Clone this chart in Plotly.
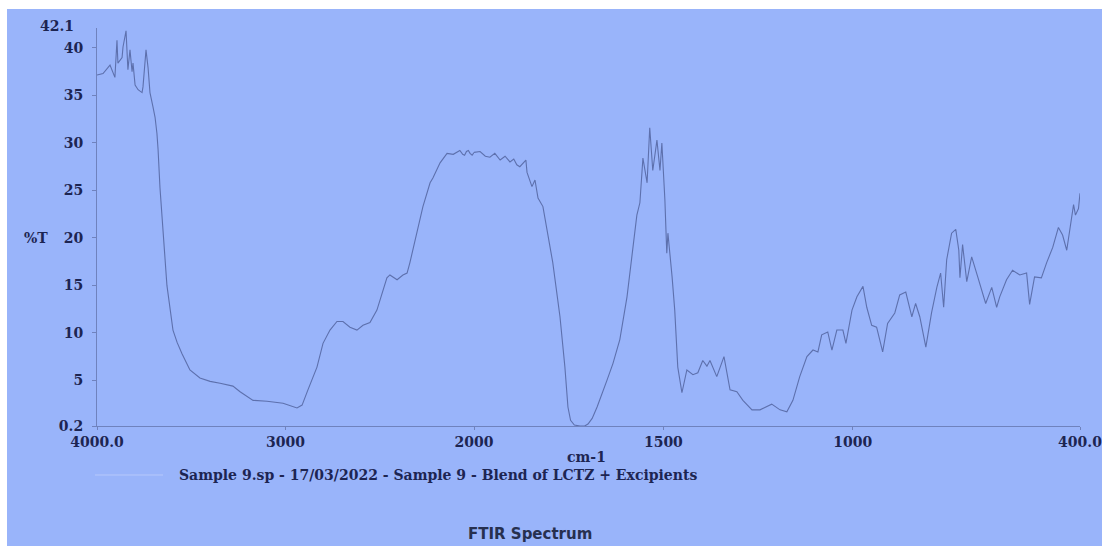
import plotly.graph_objects as go

# FTIR spectrum: wavenumber (cm-1) vs %T, split at 2000 cm-1 where the
# abscissa scale doubles.
wn_high = [4000, 3968, 3931, 3905, 3894, 3889, 3867, 3862, 3846, 3836, 3825,
           3814, 3809, 3798, 3782, 3761, 3756, 3740, 3729, 3719, 3703, 3692,
           3682, 3676, 3666, 3650, 3629, 3597, 3575, 3549, 3507, 3454, 3400, 3347,
           3279, 3241, 3172, 3098, 3013, 2939, 2912, 2881, 2833, 2801, 2764,
           2727, 2695, 2658, 2621, 2589, 2552, 2515, 2488, 2462, 2446, 2408,
           2377, 2355, 2340, 2302, 2271, 2233, 2218, 2180, 2143, 2110, 2090,
           2075, 2060, 2050, 2040, 2030, 2021, 2010, 2000]
t_high = [37.15, 37.3, 38.2, 36.9, 40.8, 38.4, 39.0, 40.1, 41.8, 37.7, 39.8,
          37.5, 38.4, 36.1, 35.6, 35.3, 35.9, 39.8, 37.9, 35.3, 33.8, 32.7,
          31.0, 29.3, 25.3, 20.3, 15.0, 10.3, 9.0, 7.8, 6.1, 5.25, 4.9, 4.7,
          4.4, 3.8, 2.9, 2.8, 2.6, 2.1, 2.4, 4.0, 6.4, 8.9, 10.3,
          11.2, 11.2, 10.6, 10.3, 10.8, 11.1, 12.4, 14.2, 15.8, 16.1, 15.6,
          16.1, 16.3, 17.4, 20.5, 23.3, 25.8, 26.3, 27.9, 28.9, 28.8, 29.0,
          29.2, 28.8, 28.7, 29.1, 29.2, 28.9, 28.7, 29.0]

wn_low = [2000, 1984, 1970, 1958, 1945, 1939, 1931, 1918, 1905, 1895, 1887,
          1879, 1863, 1860, 1847, 1839, 1831, 1818, 1799, 1792, 1773, 1760,
          1752, 1745, 1735, 1720, 1708, 1699, 1688, 1675, 1649, 1633, 1615,
          1596, 1570, 1562,
          1554, 1543, 1536, 1528, 1517, 1509, 1504, 1496, 1491, 1488, 1477,
          1470, 1462, 1451, 1438, 1422, 1409, 1396, 1385, 1377, 1359, 1340,
          1324, 1306, 1290, 1266, 1245, 1214, 1192, 1174, 1158, 1140, 1121,
          1105, 1092, 1082, 1066, 1055, 1042, 1026, 1018, 1002, 989, 973,
          963, 950, 937, 921, 908, 889, 876, 860, 844, 834, 823, 807, 792,
          778, 768, 760, 752, 739, 728, 720, 717, 710, 699, 686, 670, 649,
          633, 620, 612, 594, 578, 559, 541, 533, 520, 502, 488, 472, 457,
          446, 435, 425, 417, 412, 404, 400]
t_low = [29.0, 29.1, 28.6, 28.5, 28.9, 28.6, 28.2, 28.6, 28.0, 28.3, 27.7,
         27.5, 28.2, 26.9, 25.4, 26.1, 24.2, 23.3, 19.0, 17.4, 11.7, 6.4,
         2.2, 0.8, 0.3, 0.2, 0.2, 0.4, 1.0, 2.2, 5.0, 6.8, 9.3,
         13.8, 22.4, 23.7,
         28.4, 25.8, 31.6, 27.1, 30.3, 27.1, 30.0, 24.0, 18.4, 20.5, 15.9,
         12.4, 6.4, 3.7, 6.1, 5.6, 5.8, 7.1, 6.5, 7.1, 5.4, 7.5,
         4.0, 3.8, 2.9, 1.9, 1.9, 2.5, 1.9, 1.7, 2.9, 5.4, 7.5,
         8.2, 8.0, 9.8, 10.1, 8.2, 10.3, 10.3, 8.9, 12.4, 13.8, 14.9,
         12.7, 10.8, 10.6, 8.0, 11.0, 12.1, 14.0, 14.3, 11.7, 13.1, 11.7, 8.5, 12.1,
         14.8, 16.3, 12.7, 17.7, 20.5, 20.9, 18.7, 15.8, 19.3, 15.4, 18.0, 15.9, 13.1,
         14.8, 12.7, 13.8, 15.6, 16.6, 16.1, 16.3, 13.0, 15.9, 15.8, 17.4, 19.0, 21.1,
         20.3, 18.7, 21.1, 23.5, 22.4, 23.1, 24.7]

x_ticks_high = [4000, 3000]
x_labels_high = ["4000.0", "3000"]
x_ticks_low = [2000, 1500, 1000, 400]
x_labels_low = ["2000", "1500", "1000", "400.0"]
y_ticks = [0.2, 5, 10, 15, 20, 25, 30, 35, 40]
y_labels = ["0.2", "5", "10", "15", "20", "25", "30", "35", "40"]
y_min, y_max = 0.2, 42.1

legend_text = "Sample 9.sp - 17/03/2022 - Sample 9 - Blend of LCTZ + Excipients"

BG = "#99b4fa"
LINE = "#5d70ad"
AXIS = "#6f82bd"
TXT = "#1d2552"
SERIF = "DejaVu Serif"

W, H = 1102, 546
ML, MR, MT, MB = 97, 22, 28, 120
PW, PH = W - ML - MR, H - MT - MB
split = (474 - ML) / PW


def px(x):
    return (x - ML) / PW


def py(y):
    return (H - MB - y) / PH


fig = go.Figure()
fig.add_trace(go.Scatter(x=wn_high, y=t_high, mode="lines", xaxis="x", yaxis="y",
                         line=dict(color=LINE, width=1.1), showlegend=False))
fig.add_trace(go.Scatter(x=wn_low, y=t_low, mode="lines", xaxis="x2", yaxis="y",
                         line=dict(color=LINE, width=1.1), showlegend=False))

tickfont = dict(family=SERIF, size=14, color=TXT, weight="bold")
xcommon = dict(showgrid=False, zeroline=False, showline=True, linecolor=AXIS,
               linewidth=1, ticks="outside", ticklen=3, tickcolor=AXIS,
               tickfont=tickfont, anchor="y", tickmode="array",
               ticklabeloverflow="allow", automargin=False)

fig.update_layout(
    width=W, height=H,
    margin=dict(l=ML, r=MR, t=MT, b=MB, autoexpand=False),
    paper_bgcolor=BG, plot_bgcolor=BG,
    xaxis=dict(domain=[0, split], range=[4000, 2000],
               tickvals=x_ticks_high, ticktext=x_labels_high, **xcommon),
    xaxis2=dict(domain=[split, 1], range=[2000, 400],
                tickvals=x_ticks_low, ticktext=x_labels_low, **xcommon),
    yaxis=dict(range=[y_min, y_max], showgrid=False, zeroline=False,
               showline=True, linecolor=AXIS, linewidth=1,
               ticks="outside", ticklen=4, tickcolor=AXIS,
               tickvals=y_ticks, ticktext=y_labels, tickfont=tickfont,
               ticklabelstandoff=6, automargin=False),
    showlegend=False,
)

annotations = [
    dict(text="42.1", x=px(76), y=y_max, xref="paper", yref="y",
         xanchor="right", yanchor="bottom", yshift=-8, showarrow=False,
         font=tickfont),
    dict(text="%T", x=px(36), y=20, xref="paper", yref="y",
         xanchor="center", yanchor="middle", showarrow=False, font=tickfont),
    dict(text="cm-1", x=px(586), y=py(457), xref="paper", yref="paper",
         xanchor="center", yanchor="middle", showarrow=False, font=tickfont),
    dict(text=legend_text, x=px(177), y=py(475), xref="paper", yref="paper",
         xanchor="left", yanchor="middle", showarrow=False, font=tickfont),
    dict(text="FTIR Spectrum", x=px(530), y=py(534), xref="paper", yref="paper",
         xanchor="center", yanchor="middle", showarrow=False,
         font=dict(family="DejaVu Sans", size=15, color="#27304f", weight="bold")),
]
fig.update_layout(annotations=annotations)

shapes = [
    # legend sample line
    dict(type="line", xref="paper", yref="paper", x0=px(95), x1=px(163),
         y0=py(475), y1=py(475), line=dict(color="#b6c8fb", width=1)),
    # white page margins along the top and left edges
    dict(type="rect", xref="paper", yref="paper", x0=px(0), x1=px(W),
         y0=py(9), y1=py(0), fillcolor="white", line=dict(width=0), layer="above"),
    dict(type="rect", xref="paper", yref="paper", x0=px(0), x1=px(7),
         y0=py(H), y1=py(0), fillcolor="white", line=dict(width=0), layer="above"),
]
fig.update_layout(shapes=shapes)

fig.write_html("out.html")
